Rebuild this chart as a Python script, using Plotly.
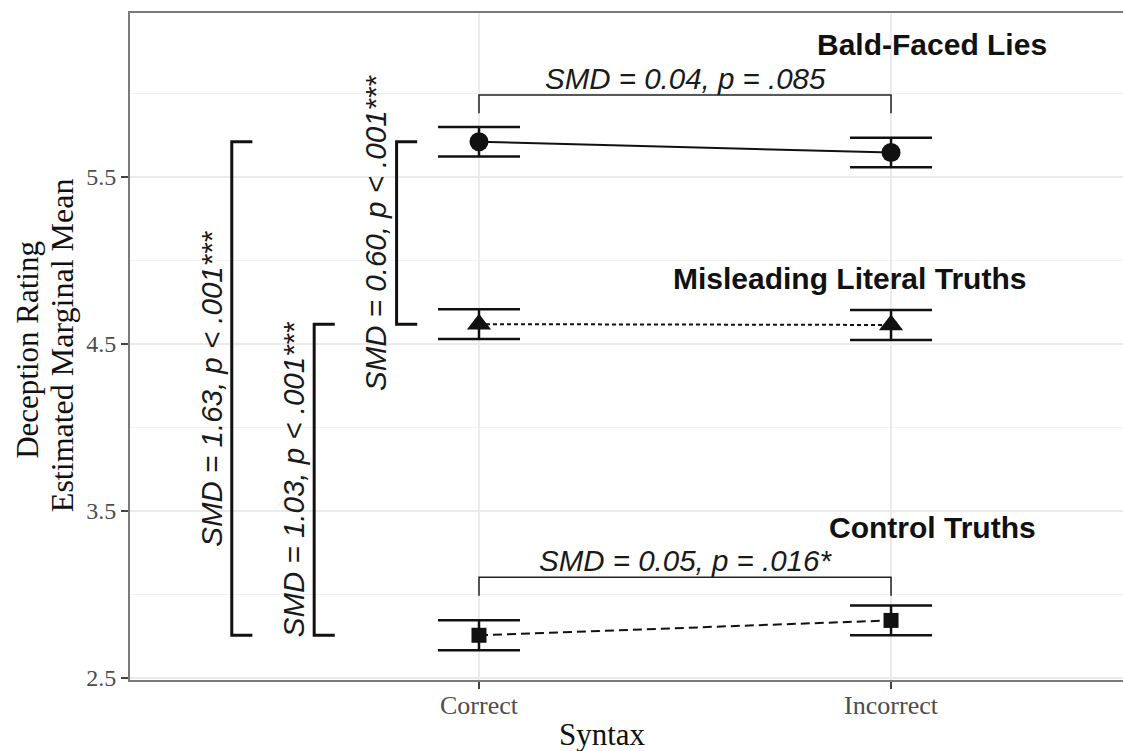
import plotly.graph_objects as go

# Syntax levels on the x axis
syntax_levels = ["Correct", "Incorrect"]
syntax_pos = [1, 2]

# Estimated marginal means and 95% CI half-widths per statement type
conditions = ["Bald-Faced Lies", "Misleading Literal Truths", "Control Truths"]
bfl_mean = [5.710, 5.645]
bfl_ci = [0.088, 0.088]
mlt_mean = [4.617, 4.612]
mlt_ci = [0.089, 0.090]
ctl_mean = [2.753, 2.842]
ctl_ci = [0.090, 0.089]

# Pairwise contrasts: Correct vs Incorrect within a statement type
within_labels = ["SMD = 0.04, p = .085", "SMD = 0.05, p = .016*"]
within_bar = [5.99, 3.10]
within_end = [5.88, 2.99]

# Contrasts between statement types (Correct syntax)
between_labels = ["SMD = 1.63, p < .001***", "SMD = 1.03, p < .001***", "SMD = 0.60, p < .001***"]
between_pairs = [(0, 2), (1, 2), (0, 1)]

# Y axis breaks
major_ticks = [2.5, 3.5, 4.5, 5.5]
minor_ticks = [3.0, 4.0, 5.0, 6.0]

means = [bfl_mean, mlt_mean, ctl_mean]
cis = [bfl_ci, mlt_ci, ctl_ci]
symbols = ["circle", "triangle-up", "square"]
marker_sizes = [19, 21, 15]
dashes = ["solid", "4px,3px", "9px,5px"]

SANS = "Liberation Sans, Arial, sans-serif"
SERIF = "Liberation Serif, Times New Roman, serif"
INK = "#111111"

fig = go.Figure()

for m, ci, sym, ms, dash, name in zip(means, cis, symbols, marker_sizes, dashes, conditions):
    fig.add_trace(go.Scatter(
        x=syntax_pos, y=m, name=name, mode="lines+markers",
        line=dict(color=INK, width=2, dash=dash),
        marker=dict(symbol=sym, size=ms, color=INK, line=dict(width=0)),
        error_y=dict(type="data", array=ci, visible=True, width=41,
                     thickness=2.5, color=INK),
        showlegend=False, hoverinfo="skip",
    ))

# Brackets for the within-type syntax contrasts
within_groups = [0, 2]
annotations = []
for g, lab, bar, end in zip(within_groups, within_labels, within_bar, within_end):
    fig.add_trace(go.Scatter(
        x=[syntax_pos[0], syntax_pos[0], syntax_pos[1], syntax_pos[1]],
        y=[end, bar, bar, end], mode="lines",
        line=dict(color="#222222", width=1.5),
        showlegend=False, hoverinfo="skip",
    ))
    annotations.append(dict(
        x=1.5, y=bar + 0.1, xref="x", yref="y", text=f"<i>{lab}</i>",
        showarrow=False, font=dict(family=SANS, size=29.5, color="#1a1a1a"),
        xanchor="center", yanchor="middle",
    ))

# Brackets for the between-type contrasts, stacked left of the data
bracket_x = [0.4, 0.6, 0.8]
for bx, (a, b), lab in zip(bracket_x, between_pairs, between_labels):
    top = means[a][0]
    bot = means[b][0]
    fig.add_trace(go.Scatter(
        x=[bx + 0.05, bx, bx, bx + 0.05], y=[top, top, bot, bot], mode="lines",
        line=dict(color=INK, width=3),
        showlegend=False, hoverinfo="skip",
    ))
    annotations.append(dict(
        x=bx - 0.05, y=(top + bot) / 2, xref="x", yref="y", text=f"<i>{lab}</i>",
        textangle=-90, showarrow=False,
        font=dict(family=SANS, size=29.5, color="#1a1a1a"),
        xanchor="center", yanchor="middle",
    ))

# Statement type labels
label_x = [2.1, 1.9, 2.1]
label_y = [6.29, 4.89, 3.40]
for name, lx, ly in zip(conditions, label_x, label_y):
    annotations.append(dict(
        x=lx, y=ly, xref="x", yref="y", text=f"<b>{name}</b>", showarrow=False,
        font=dict(family=SANS, size=30, color=INK),
        xanchor="center", yanchor="middle",
    ))

# Axis titles
annotations.append(dict(
    x=0.476, y=-0.082, xref="paper", yref="paper", text="Syntax", showarrow=False,
    font=dict(family=SERIF, size=31, color="#111111"), xanchor="center", yanchor="middle",
))
annotations.append(dict(
    x=-0.1027, y=0.495, xref="paper", yref="paper", text="Deception Rating",
    textangle=-90, showarrow=False,
    font=dict(family=SERIF, size=31, color="#111111"), xanchor="center", yanchor="middle",
))
annotations.append(dict(
    x=-0.0685, y=0.502, xref="paper", yref="paper", text="Estimated Marginal Mean",
    textangle=-90, showarrow=False,
    font=dict(family=SERIF, size=32, color="#111111"), xanchor="center", yanchor="middle",
))

fig.update_layout(
    width=1123, height=751,
    margin=dict(l=130, r=0, t=13, b=71),
    paper_bgcolor="white", plot_bgcolor="white",
    annotations=annotations,
    xaxis=dict(
        range=[0.153, 2.563], tickvals=syntax_pos, ticktext=syntax_levels,
        showgrid=True, gridcolor="#ebebeb", gridwidth=1.5, zeroline=False,
        showline=True, linecolor="#7a7a7a", linewidth=2, mirror=True,
        ticks="outside", ticklen=7, tickwidth=2, tickcolor="#444444",
        ticklabelstandoff=-6,
        tickfont=dict(family=SERIF, size=26, color="#4d4d4d"),
    ),
    yaxis=dict(
        range=[2.485, 6.481], tickvals=major_ticks,
        ticktext=[f"{v:.1f}" for v in major_ticks],
        showgrid=True, gridcolor="#ebebeb", gridwidth=1.5, zeroline=False,
        minor=dict(tickvals=minor_ticks, showgrid=True, gridcolor="#f2f2f2", gridwidth=1.2),
        showline=True, linecolor="#7a7a7a", linewidth=2, mirror=False,
        ticks="outside", ticklen=7, tickwidth=2, tickcolor="#444444",
        tickfont=dict(family=SERIF, size=24, color="#4d4d4d"),
    ),
)

fig.write_html("out.html")
